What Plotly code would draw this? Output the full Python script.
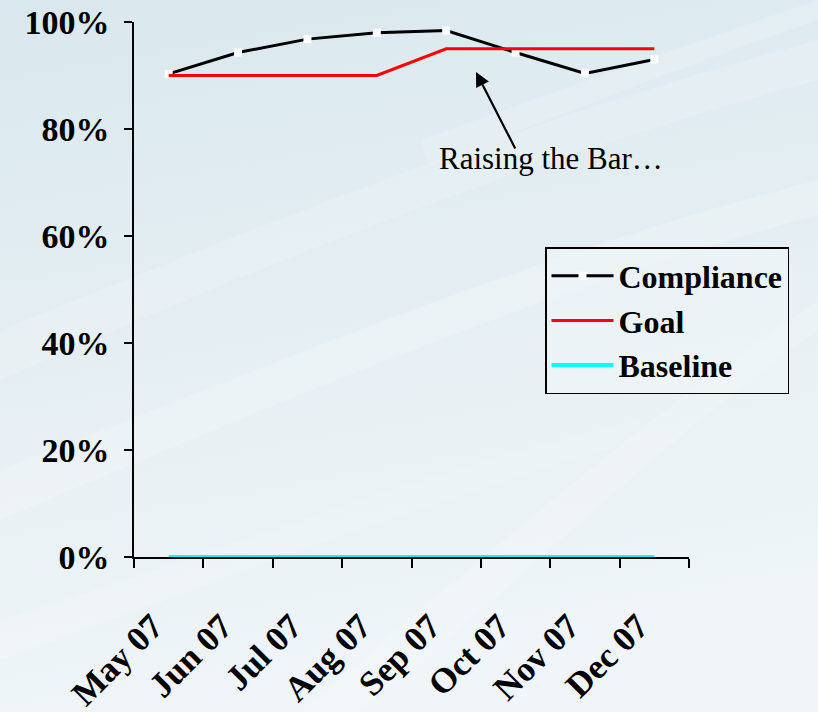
import base64
import plotly.graph_objects as go

# Monthly data
months = ["May 07", "Jun 07", "Jul 07", "Aug 07", "Sep 07", "Oct 07", "Nov 07", "Dec 07"]
compliance = [90.3, 94.3, 96.8, 98.0, 98.4, 94.3, 90.4, 93.0]
goal = [90, 90, 90, 90, 95, 95, 95, 95]
baseline = [0, 0, 0, 0, 0, 0, 0, 0]
y_ticks = [0, 20, 40, 60, 80, 100]
y_tick_text = ["0%", "20%", "40%", "60%", "80%", "100%"]

W, H = 818, 712
SERIF = "Liberation Serif, Times New Roman, serif"

# Soft blue-grey backdrop with pale diagonal streaks
svg = f"""<svg xmlns='http://www.w3.org/2000/svg' width='{W}' height='{H}' viewBox='0 0 {W} {H}' preserveAspectRatio='none'>
<defs><linearGradient id='g' x1='0' y1='0' x2='0.2' y2='1'>
<stop offset='0' stop-color='#d9e8ee'/><stop offset='0.55' stop-color='#e6eff3'/><stop offset='1' stop-color='#eff5f8'/>
</linearGradient></defs>
<rect width='{W}' height='{H}' fill='url(#g)'/>
<path d='M0 330 C250 230 520 120 818 40 L818 80 C520 160 250 270 0 380 Z' fill='#ffffff' fill-opacity='0.16'/>
<path d='M0 470 C260 370 540 250 818 180 L818 215 C540 290 260 410 0 520 Z' fill='#ffffff' fill-opacity='0.18'/>
<path d='M300 712 C480 560 640 420 818 300 L818 330 C650 450 500 600 360 712 Z' fill='#ffffff' fill-opacity='0.14'/>
<path d='M0 620 C200 560 420 470 640 420 L640 440 C420 500 200 590 0 660 Z' fill='#ffffff' fill-opacity='0.12'/>
<path d='M420 140 C560 90 700 40 818 0 L818 20 C700 60 560 115 430 165 Z' fill='#ffffff' fill-opacity='0.16'/>
</svg>"""
bg_uri = "data:image/svg+xml;base64," + base64.b64encode(svg.encode()).decode()

fig = go.Figure()
fig.add_trace(go.Scatter(
    x=months, y=compliance, name="Compliance", mode="lines+markers",
    line=dict(color="black", width=3),
    marker=dict(symbol="square", size=8, color="white", line=dict(width=0)),
    cliponaxis=False,
))
fig.add_trace(go.Scatter(
    x=months, y=goal, name="Goal", mode="lines",
    line=dict(color="#ff0000", width=3), cliponaxis=False,
))
fig.add_trace(go.Scatter(
    x=months, y=baseline, name="Baseline", mode="lines",
    line=dict(color="#00ffff", width=4), cliponaxis=False,
))

x0, x1 = 134, 689
y_top, y_bot = 22, 557
fig.update_layout(
    width=W, height=H,
    margin=dict(l=0, r=0, t=0, b=0, autoexpand=False),
    paper_bgcolor="#e4eef2",
    plot_bgcolor="rgba(0,0,0,0)",
    font=dict(family=SERIF, color="black"),
    images=[dict(source=bg_uri, xref="paper", yref="paper", x=0, y=1,
                 sizex=1, sizey=1, sizing="stretch", layer="below",
                 xanchor="left", yanchor="top")],
    xaxis=dict(
        domain=[x0 / W, x1 / W], automargin=False, layer="below traces",
        type="category", range=[-0.5, len(months) - 0.5],
        showgrid=False, zeroline=False,
        showline=True, linecolor="black", linewidth=1.5,
        ticks="outside", tickson="boundaries", ticklen=9, tickwidth=1.5, tickcolor="black",
        tickangle=-45, ticklabelstandoff=33, ticklabelshift=-16,
        tickfont=dict(family=SERIF, size=35, weight="bold"),
    ),
    yaxis=dict(
        domain=[(H - y_bot) / H, (H - y_top) / H], automargin=False, layer="below traces",
        range=[0, 100],
        tickvals=y_ticks, ticktext=y_tick_text,
        showgrid=False, zeroline=False,
        showline=True, linecolor="black", linewidth=1.5,
        ticks="outside", ticklen=8, tickwidth=1.5, tickcolor="black",
        ticklabelstandoff=8,
        tickfont=dict(family=SERIF, size=34, weight="bold"),
    ),
    legend=dict(
        x=545 / W, y=1 - 247 / H, xanchor="left", yanchor="top",
        bgcolor="rgba(240,246,248,0.55)", bordercolor="black", borderwidth=1.5,
        font=dict(family=SERIF, size=32, weight="bold"),
        itemwidth=62, tracegroupgap=0,
    ),
    showlegend=True,
    annotations=[
        dict(text="Raising the Bar…", xref="paper", yref="paper",
             x=551 / W, y=1 - 158 / H, xanchor="center", yanchor="middle",
             showarrow=False, font=dict(family=SERIF, size=31)),
        dict(text="", xref="paper", yref="paper",
             x=476 / W, y=1 - 72 / H, ax=40, ay=78,
             showarrow=True, arrowhead=2, arrowsize=1.3, arrowwidth=2.2,
             arrowcolor="black"),
    ],
)

fig.write_html("out.html")
